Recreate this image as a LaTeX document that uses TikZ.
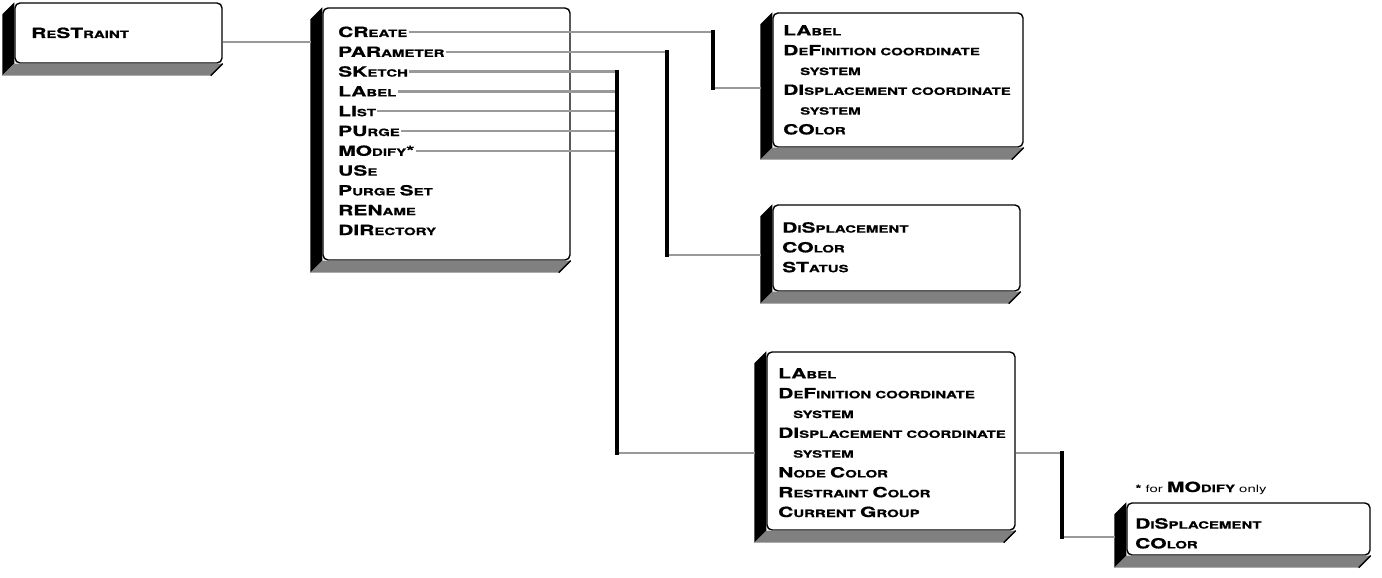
\documentclass[tikz,border=0pt]{standalone}
\usepackage{fontspec}
\setmainfont{TeX Gyre Heros}[FakeStretch=1.5, BoldFeatures={FakeBold=0.8}]
\usepackage{tikz}

\newcommand{\ab}[1]{{\fontsize{14}{19.8}\selectfont #1}}
\newcommand{\depth}[1]{%
	\fill[black] (#1.north west) -- ++(-12,12) -- ([shift={(-12,12)}]#1.south west) -- (#1.south west) -- cycle;
	\fill[black!50] (#1.south west) -- ([shift={(-12,12)}]#1.south west) -- ([shift={(-12,12)}]#1.south east) -- (#1.south east) -- cycle;
	\draw[line width=1.5pt] (#1.south east) -- ([shift={(-12,12)}]#1.south east);}

\begin{document}
\begin{tikzpicture}[
	x=1pt, y=-1pt,
	every node/.style={font=\fontsize{10}{19.8}\selectfont\bfseries},
	face/.style={draw, line width=1.4pt, rounded corners=5pt, fill=white, inner sep=0pt},
	item/.style={anchor=base west, inner sep=1pt, text height=10pt, text depth=0pt},
	list/.style={anchor=north west, inner sep=0pt, align=left},
	hline/.style={draw=black!40, line width=2.4pt},
	vline/.style={draw=black, line width=3.4pt, line cap=rect}
	]
	\useasboundingbox (0,0) rectangle (1382,578);
	
	% boxes
	\node[face, minimum width=207, minimum height=60] (restr) at (118.5,33) {};
	\depth{restr}
	\node[face, minimum width=247, minimum height=252] (main) at (446.5,134) {};
	\depth{main}
	\node[face, minimum width=250, minimum height=134] (b1) at (898,80) {};
	\depth{b1}
	\node[face, minimum width=247, minimum height=86] (b2) at (896.5,248) {};
	\depth{b2}
	\node[face, minimum width=248, minimum height=178] (b3) at (891,441) {};
	\depth{b3}
	\node[face, minimum width=243, minimum height=52] (b4) at (1248.5,529) {};
	\depth{b4}
	
	\node[item] (rs) at (30,38) {\ab{R}E\ab{ST}RAINT};
	
	% main menu
	\node[item] (cr) at (337,37) {\ab{CR}EATE};
	\node[item] (pa) at (337,56.8) {\ab{PAR}AMETER};
	\node[item] (sk) at (337,76.6) {\ab{SK}ETCH};
	\node[item] (la) at (337,96.4) {\ab{LA}BEL};
	\node[item] (li) at (337,116.2) {\ab{LI}ST};
	\node[item] (pu) at (337,136) {\ab{PU}RGE};
	\node[item] (mo) at (337,155.8) {\ab{MO}DIFY\ab{*}};
	\node[item] (us) at (337,175.6) {\ab{US}E};
	\node[item] (ps) at (337,195.4) {\ab{P}URGE \ab{S}ET};
	\node[item] (rn) at (337,215.2) {\ab{REN}AME};
	\node[item] (dr) at (337,235) {\ab{DIR}ECTORY};
	
	% sub menus
	\node[list] (t1) at (783,25) {\ab{LA}BEL\\ \ab{D}E\ab{F}INITION COORDINATE\\ \hspace*{17pt}SYSTEM\\
		\ab{DI}SPLACEMENT COORDINATE\\ \hspace*{17pt}SYSTEM\\ \ab{CO}LOR};
	\node[list] (t2) at (782,222) {\ab{D}I\ab{S}PLACEMENT\\ \ab{CO}LOR\\ \ab{ST}ATUS};
	\node[list] (t3) at (778,368) {\ab{LA}BEL\\ \ab{D}E\ab{F}INITION COORDINATE\\ \hspace*{15pt}SYSTEM\\
		\ab{DI}SPLACEMENT COORDINATE\\ \hspace*{15pt}SYSTEM\\ \ab{N}ODE \ab{C}OLOR\\
		\ab{R}ESTRAINT \ab{C}OLOR\\ \ab{C}URRENT \ab{G}ROUP};
	\node[list] (t4) at (1135,518) {\ab{D}I\ab{S}PLACEMENT\\ \ab{CO}LOR};
	
	\node[anchor=base west] (fn) at (1132,492) {* {\mdseries for} \ab{MO}DIFY {\mdseries only}};
	
	% junctions
	\coordinate (main-in) at (311,42);
	\coordinate (j1) at (713,88);
	\coordinate (b1-in) at (761,88);
	\coordinate (j2) at (667,255);
	\coordinate (b2-in) at (761,255);
	\coordinate (j3) at (617,453);
	\coordinate (b3-in) at (755,453);
	\coordinate (j4) at (1062,537);
	\coordinate (b4-in) at (1115,537);
	
	% connectors
	\draw[hline] (restr.east |- main-in) -- (main-in);
	\draw[hline] (cr.east) -| (j1) -- (b1-in);
	\draw[vline] (cr.east -| j1) -- (j1);
	\draw[hline] (pa.east) -| (j2) -- (b2-in);
	\draw[vline] (pa.east -| j2) -- (j2);
	\draw[hline] (sk.east) -- (sk.east -| j3);
	\draw[hline] (la.east) -- (la.east -| j3);
	\draw[hline] (li.east) -- (li.east -| j3);
	\draw[hline] (pu.east) -- (pu.east -| j3);
	\draw[hline] (mo.east) -- (mo.east -| j3);
	\draw[hline] (j3) -- (b3-in);
	\draw[vline] (sk.east -| j3) -- (j3);
	\draw[hline] (b3.east |- b3-in) -| (j4) -- (b4-in);
	\draw[vline] (j4 |- b3-in) -- (j4);
	
\end{tikzpicture}
\end{document}
